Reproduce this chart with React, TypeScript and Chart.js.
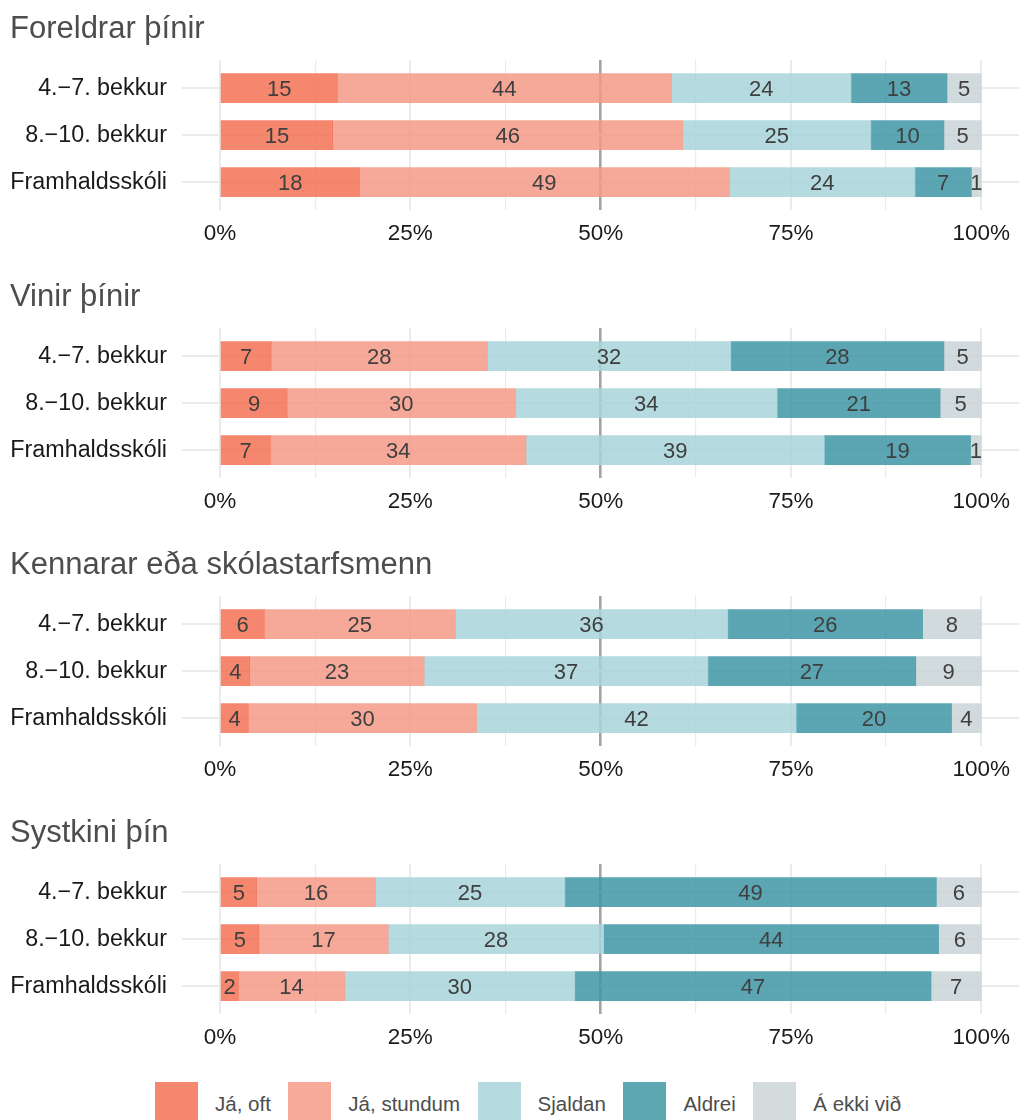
import React, { useEffect, useRef } from 'react';
import { Chart, registerables } from 'chart.js';

Chart.register(...registerables);

const FONT = "'Liberation Sans', Arial, Helvetica, sans-serif";

// ---- data ----
const groupLabels = ['4.\u22127. bekkur', '8.\u221210. bekkur', 'Framhaldsskóli'];
const responseLabels = ['Já, oft', 'Já, stundum', 'Sjaldan', 'Aldrei', 'Á ekki við'];
const panelTitles = ['Foreldrar þínir', 'Vinir þínir', 'Kennarar eða skólastarfsmenn', 'Systkini þín'];
const xTickValues = [0, 12.5, 25, 37.5, 50, 62.5, 75, 87.5, 100];
const xLabelledTicks = [0, 25, 50, 75, 100];

// percent per group row: [Já oft, Já stundum, Sjaldan, Aldrei, Á ekki við]
const foreldrarRows = [
  [15.4, 43.9, 23.6, 12.6, 4.5],
  [14.8, 46.0, 24.7, 9.6, 4.9],
  [18.3, 48.6, 24.4, 7.4, 1.3],
];
const vinirRows = [
  [6.7, 28.4, 32.0, 28.0, 4.9],
  [8.8, 30.0, 34.4, 21.4, 5.4],
  [6.6, 33.6, 39.2, 19.2, 1.4],
];
const kennararRows = [
  [5.8, 25.1, 35.8, 25.6, 7.7],
  [3.9, 22.9, 37.3, 27.3, 8.6],
  [3.7, 30.0, 42.0, 20.4, 3.9],
];
const systkiniRows = [
  [4.8, 15.6, 24.9, 48.8, 5.9],
  [5.1, 17.0, 28.3, 44.0, 5.6],
  [2.4, 14.0, 30.2, 46.8, 6.6],
];
const panelRows = [foreldrarRows, vinirRows, kennararRows, systkiniRows];

// ---- styles ----
const barColors = [
  'rgba(242,114,84,0.85)',
  'rgba(246,154,135,0.85)',
  'rgba(168,211,217,0.85)',
  'rgba(63,150,166,0.85)',
  'rgba(201,211,214,0.85)',
];
const legendColors = ['#F4876E', '#F7A99A', '#B5DBE0', '#5DA7B3', '#D3DBDD'];

const valueLabelPlugin = {
  id: 'valueLabels',
  afterDatasetsDraw(chart: any) {
    const ctx = chart.ctx;
    ctx.save();
    ctx.font = `22px ${FONT}`;
    ctx.fillStyle = '#3f3f3f';
    ctx.textAlign = 'center';
    ctx.textBaseline = 'middle';
    chart.data.datasets.forEach((ds: any, di: number) => {
      const meta = chart.getDatasetMeta(di);
      meta.data.forEach((el: any, i: number) => {
        const v = ds.data[i].x;
        const p = el.getProps(['x', 'base', 'y'], true);
        ctx.fillText(String(Math.round(v)), (p.x + p.base) / 2, p.y + 1.5);
      });
    });
    ctx.restore();
  },
};

function Panel({ title, rows }: { title: string; rows: number[][] }) {
  const ref = useRef<HTMLCanvasElement>(null);
  useEffect(() => {
    const datasets = responseLabels.map((label, j) => ({
      label,
      data: rows.map((r, i) => ({ x: r[j], y: i })),
      backgroundColor: barColors[j],
      borderWidth: 0,
      barThickness: 29,
    }));
    const chart = new Chart(ref.current as HTMLCanvasElement, {
      type: 'bar',
      data: { datasets } as any,
      options: {
        indexAxis: 'y',
        animation: false,
        responsive: false,
        maintainAspectRatio: false,
        layout: { padding: { left: 10, top: 0, right: 0, bottom: 0 } },
        plugins: {
          legend: { display: false },
          tooltip: { enabled: false },
          title: {
            display: true,
            text: title,
            align: 'start',
            color: '#4d4d4d',
            font: { family: FONT, size: 31, weight: 'normal', lineHeight: 1.2 },
            padding: { top: 10.5, bottom: 12.3 },
          },
        },
        scales: {
          x: {
            type: 'linear',
            stacked: true,
            min: -5,
            max: 105,
            offset: false,
            afterBuildTicks: (s: any) => {
              s.ticks = xTickValues.map((v) => ({ value: v }));
            },
            afterFit: (s: any) => {
              s.height = 57.6;
            },
            ticks: {
              autoSkip: false,
              maxRotation: 0,
              padding: 10,
              color: '#1a1a1a',
              font: { family: FONT, size: 22.5 },
              callback: (v: any) => (xLabelledTicks.includes(v) ? v + '%' : ''),
            },
            grid: {
              offset: false,
              drawTicks: false,
              color: (c: any) => (c.tick && c.tick.value === 50 ? '#a3a3a3' : '#ebebeb'),
              lineWidth: (c: any) =>
                c.tick && c.tick.value === 50 ? 2.6 : c.tick && c.tick.value % 25 === 0 ? 2 : 1.2,
            },
            border: { display: false },
          },
          y: {
            type: 'linear',
            stacked: true,
            reverse: true,
            min: -0.6,
            max: 2.6,
            offset: false,
            afterBuildTicks: (s: any) => {
              s.ticks = groupLabels.map((_, i) => ({ value: i }));
            },
            afterFit: (s: any) => {
              s.width = 172;
            },
            ticks: {
              padding: 15,
              color: '#1a1a1a',
              font: { family: FONT, size: 23.3 },
              callback: (v: any) => groupLabels[v] ?? '',
            },
            grid: { offset: false, drawTicks: false, color: '#ebebeb', lineWidth: 2 },
            border: { display: false },
          },
        },
      } as any,
      plugins: [valueLabelPlugin],
    });
    return () => chart.destroy();
  }, [title, rows]);
  return (
    <canvas
      ref={ref}
      width={1020}
      height={268}
      style={{ display: 'block', width: 1020, height: 268 }}
    />
  );
}

export default function App() {
  return (
    <div
      style={{
        position: 'absolute',
        left: 0,
        top: 0,
        width: 1020,
        height: 1120,
        overflow: 'hidden',
        background: '#ffffff',
        fontFamily: FONT,
      }}
    >
      {panelTitles.map((t, i) => (
        <div key={t} style={{ position: 'absolute', left: 0, top: i * 268, width: 1020, height: 268 }}>
          <Panel title={t} rows={panelRows[i]} />
        </div>
      ))}
      <div
        style={{
          position: 'absolute',
          left: 155,
          top: 1082,
          height: 43,
          display: 'flex',
          alignItems: 'center',
          whiteSpace: 'nowrap',
        }}
      >
        {responseLabels.map((label, j) => (
          <div key={label} style={{ display: 'flex', alignItems: 'center', marginRight: 17.5 }}>
            <div style={{ width: 43, height: 43, background: legendColors[j], marginRight: 17 }} />
            <span style={{ fontSize: 20.5, color: '#4d4d4d', lineHeight: '43px' }}>{label}</span>
          </div>
        ))}
      </div>
    </div>
  );
}
